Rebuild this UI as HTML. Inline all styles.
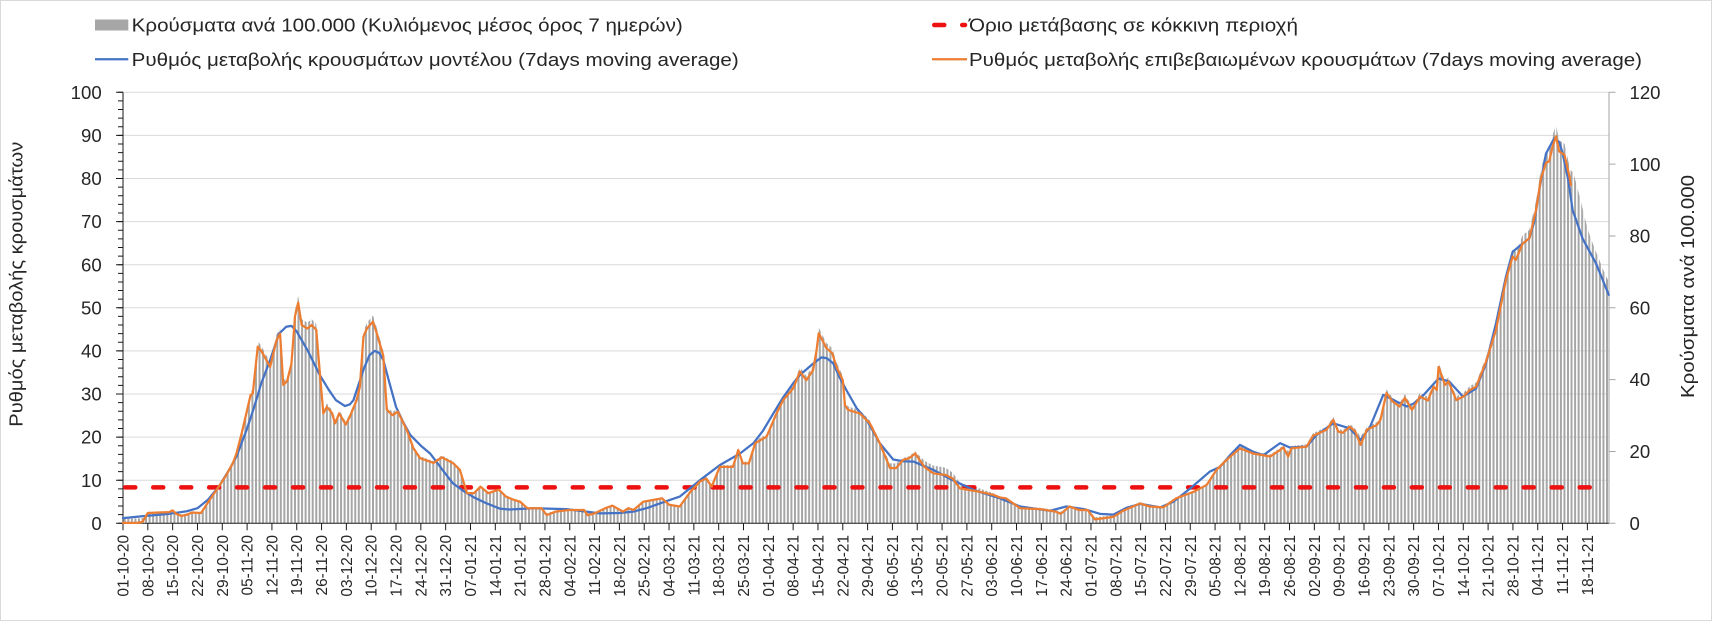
<!DOCTYPE html>
<html>
<head>
<meta charset="utf-8">
<style>
  html,body{margin:0;padding:0;background:#fff;}
  svg{display:block;}
  text{font-family:"Liberation Sans",Arial,"DejaVu Sans",sans-serif;fill:#262626;}
</style>
</head>
<body>
<svg width="1712" height="621" viewBox="0 0 1712 621" xmlns="http://www.w3.org/2000/svg">
  <defs>
    <clipPath id="bc">
      <polygon transform="translate(123,523.3) scale(3.546,-4.4393)" points="0,0 0,1 6.3,1.2 7,2.6 10,2.6 13,2.7 14,3.2 15,2.4 16.5,2 18,2.2 19.5,2.6 22,2.5 24.5,5.5 27,8.5 29,11 31,14 32,16.2 33.5,21 35,26.3 36,29.8 36.6,30.1 38,41 39,40 41.5,36.3 43.3,42.5 44.3,44 45.2,32.1 46.3,33 47.5,37 48.5,48 49.4,51.2 50.4,46 52,45.2 53.2,46 54.5,44.9 55.6,34 56.5,25.5 57.5,27 59,25.5 59.8,23.2 61,25.5 62.8,22.9 64,24.8 65.9,28.6 66.8,31.7 67.8,43.3 68.8,45.2 70.5,46.8 71.7,43.7 73.4,38.9 74.4,26.3 76,25.1 77.5,25.9 80,21.7 81.9,17.4 83.8,15.1 87.6,14 89.9,15.3 93,14 95,12.4 97,7 99,7 100.8,8.5 103,7 106,7.8 108,6.2 110,5.5 112,5.0 114,3.5 118,3.5 119.5,2.3 122,2.9 126,3.1 130,3.1 131,2.3 133,2.5 136,3.5 138,4.1 141,2.9 142.5,3.5 144,3.1 146.7,5 152,5.8 154,4.3 157,3.9 160,7.3 162.7,9.7 164.5,10.4 166,8.5 168.3,13.1 172,13.1 173.5,17 174.8,13.9 176.5,13.9 178.3,18.6 181.5,20.1 184.3,25.5 186.2,28.6 189,31.3 190.9,35.2 192.7,33.2 194.6,35.5 195.6,40.2 196.2,44.1 198.4,40.6 200,39.5 201.2,36.3 203,33.2 203.6,27.4 204.5,26.3 207.8,25.5 210.6,23.2 213.4,18.6 216.3,13.5 218,13.5 220,14.7 221.7,15.1 223.4,16.2 226,14.1 228.5,13 232,12.5 234,11.4 236,9.1 241.7,7.8 245.4,6.8 247.3,6.0 249,5.8 253,3.7 258.6,3.5 263,3 264.5,2.6 266.9,3.9 269.5,3.3 272,3.3 274.1,1.4 279.3,1.8 282,2.9 286.8,4.8 289.5,4.2 293.4,3.7 297,5.8 301.9,7.3 305.6,8.9 308.4,12.4 311.2,14.7 315,17.4 318.7,16.2 323.5,15.5 326.3,17 327.2,17.6 328.6,16.2 329.5,17.4 333.8,17.8 335.6,20.3 339.4,21.7 341.3,24 342.7,21.3 344,21 346,22.4 347.5,21.3 349,19.5 350.8,21.7 353.6,22.8 354.6,24 356.3,30.2 358,28.3 360,27.1 361.5,29.1 363.5,26.3 365.8,29.4 368,28.5 369.6,31.7 370.5,30.9 371,36.3 372.8,32.1 373.8,32.9 376,28.6 378,29.4 379.8,30.9 381.6,31.7 384.4,37.5 387.2,44.9 390,56.5 391.9,61.9 392.8,61.1 394.7,64.9 396.6,66.1 398.5,72.7 399.9,80.1 401.3,83.6 402.2,84 403.2,87.5 404.1,89.8 405,86.3 406.5,85.5 407.9,80.5 408.3,79.5 409,79 410,76 411,73 412,69.5 413,66.5 414,64 415,62 416,60 417,58 418,56 419,54.5 419,0"/>
    </clipPath>
  </defs>

  <!-- background & border -->
  <rect x="0" y="0" width="1712" height="621" fill="#ffffff"/>
  <rect x="0.5" y="0.5" width="1711" height="620" fill="none" stroke="#d9d9d9" stroke-width="1"/>

  <!-- gridlines -->
  <g stroke="#d9d9d9" stroke-width="1">
    <line x1="123" y1="480.2" x2="1609" y2="480.2"/>
    <line x1="123" y1="437.1" x2="1609" y2="437.1"/>
    <line x1="123" y1="394.0" x2="1609" y2="394.0"/>
    <line x1="123" y1="350.9" x2="1609" y2="350.9"/>
    <line x1="123" y1="307.8" x2="1609" y2="307.8"/>
    <line x1="123" y1="264.7" x2="1609" y2="264.7"/>
    <line x1="123" y1="221.6" x2="1609" y2="221.6"/>
    <line x1="123" y1="178.5" x2="1609" y2="178.5"/>
    <line x1="123" y1="135.4" x2="1609" y2="135.4"/>
    <line x1="123" y1="92.3" x2="1609" y2="92.3"/>
  </g>

  <!-- bars (stripes clipped by bar outline) -->
  <line x1="123.77" y1="307.8" x2="1609" y2="307.8" stroke="#a6a6a6" stroke-width="432" stroke-dasharray="2 1.546" clip-path="url(#bc)"/>

  <!-- axes -->
  <line x1="123" y1="92.3" x2="123" y2="523.3" stroke="#1a1a1a" stroke-width="1"/>
  <line x1="120.5" y1="91.8" x2="120.5" y2="523.8" stroke="#1a1a1a" stroke-width="5" stroke-dasharray="1 7.62"/>
  <line x1="119.5" y1="91.8" x2="119.5" y2="523.8" stroke="#1a1a1a" stroke-width="7" stroke-dasharray="1 42.1"/>
  <line x1="123" y1="523.3" x2="1609" y2="523.3" stroke="#1a1a1a" stroke-width="1"/>
  <line x1="122.5" y1="526.8" x2="1588" y2="526.8" stroke="#1a1a1a" stroke-width="7" stroke-dasharray="1 23.82"/>
  <line x1="1609" y1="92.3" x2="1609" y2="523.3" stroke="#a6a6a6" stroke-width="1"/>
  <line x1="1612.25" y1="91.8" x2="1612.25" y2="523.8" stroke="#a6a6a6" stroke-width="6.5" stroke-dasharray="1 70.83"/>

  <!-- red threshold -->
  <line x1="125.25" y1="487.4" x2="1592" y2="487.4" stroke="#ee1111" stroke-width="4.5" stroke-dasharray="10 17.97" stroke-linecap="round"/>

  <!-- lines -->
  <g transform="translate(123,523.3) scale(3.546,-4.31)" fill="none" stroke-linejoin="round" stroke-linecap="round">
    <polyline vector-effect="non-scaling-stroke" stroke="#4472c4" stroke-width="2.25" points="0,1.2 5,1.6 13,2.2 18,2.8 21,3.5 24,5.5 27,8.5 30,12.5 32,15.5 35,22 37,27 39,32.5 41.5,37.9 44,44 46,45.6 47.5,45.8 49,44.5 52,40.2 55.5,34.4 58,31 60,28.6 62.6,27.2 64,27.6 65,28.6 67.8,35.6 69.5,39 71,40 72.3,39.5 73.4,37.9 75,33 77,27 79,23.5 81,20.5 84,18 86.6,16.2 90,12.5 93,9.3 96,7.5 99,6 102.6,4.6 106.3,3.4 109,3.2 115.7,3.5 125,3.3 134.5,2.3 140,2.4 143.9,2.7 148,3.6 151.4,4.6 157,6.2 162.7,10 168.3,13.5 174,16.2 177.8,18.6 180.5,21.5 183.4,25.5 186,29 189,32.5 190.9,34.4 194.7,37.1 197,38.5 198.5,38.3 200.3,37.1 202,34 204,30.9 206.9,26.7 209.7,24 213.4,18.6 217.2,14.8 220,14.4 223,14.3 228.5,12.4 234,10 240,7.7 247.3,5.8 253,3.9 261.4,2.9 266,3.9 271,3.3 275.5,2.2 279.3,2.0 283,3.6 286.8,4.5 292.5,3.7 296.2,5 301,8.1 306.5,12 309.4,13.1 312.2,15.8 315,18.2 318.7,16.6 321.6,15.8 326.3,18.6 329,17.6 333.8,17.8 336.6,20.5 341.3,23.2 346,22 349,19.3 351.7,22.4 355.4,29.8 358.3,28.6 362,27.1 364,27.8 366.8,29.8 371,33.6 374,32.9 377.9,29.4 381.6,31.3 384.4,37.1 387.2,46.4 390,57.2 391.9,63 394.7,64.9 396.6,66.1 398,70 399.4,77.3 401.3,85.8 403.6,89.3 405,88.5 406,85.8 407.5,80 408.8,72.7 411.6,66.1 415.4,60.3 419,53"/>
    <polyline vector-effect="non-scaling-stroke" stroke="#ed7d31" stroke-width="2.25" points="0,0.1 4,0.1 5.5,0.3 7,2.4 10,2.5 13,2.6 14,3.0 15,2.2 16.5,1.7 18,2.0 19.5,2.5 22,2.4 24.5,5.5 27,8.5 29,11 31,14 32,16.2 33.5,21 35,26.3 36,29.8 36.6,30.1 38,41 39,40 41.5,36.3 43.3,42.5 44.3,44 45.2,32.1 46.3,33 47.5,37 48.5,48 49.4,51.2 50.4,46 52,45.2 53.2,46 54.5,44.9 55.6,34 56.5,25.5 57.5,27 59,25.5 59.8,23.2 61,25.5 62.8,22.9 64,24.8 65.9,28.6 66.8,31.7 67.8,43.3 68.8,45.2 70.5,46.8 71.7,43.7 73.4,38.9 74.4,26.3 76,25.1 77.5,25.9 80,21.7 81.9,17.4 83.8,15.1 87.6,14 89.9,15.3 93,14 95,12.4 97,7 99,7 100.8,8.5 103,7 106,7.8 108,6.2 110,5.5 112,5.0 114,3.5 118,3.5 119.5,1.9 122,2.7 126,3.1 130,3.1 131,1.9 133,2.3 136,3.5 138,4.1 141,2.7 142.5,3.5 144,3.1 146.7,5 152,5.8 154,4.3 157,3.9 160,7.3 162.7,9.7 164.5,10.4 166,8.5 168.3,13.1 172,13.1 173.5,17 174.8,13.9 176.5,13.9 178.3,18.6 181.5,20.1 184.3,25.5 186.2,28.6 189,31.3 190.9,35.2 192.7,33.2 194.6,35.5 195.6,40.2 196.2,44.1 198.4,40.6 200,39.5 201.2,36.3 203,33.2 203.6,27.4 204.5,26.3 207.8,25.5 210.6,23.2 213.4,18.6 216.3,12.8 218,12.8 220,14.7 221.7,15.1 223.4,16.2 226,13.1 228.5,11.6 232,11.2 234,10.4 236,8.1 241.7,7.3 245.4,6.6 247.3,6.0 249,5.8 253,3.5 258.6,3.3 263,2.7 264.5,2.2 266.9,3.9 269.5,3.1 272,3.1 274.1,0.9 279.3,1.5 282,2.9 286.8,4.6 289.5,3.9 293.4,3.7 297,5.8 301.9,7.3 305.6,8.9 308.4,12.4 311.2,14.7 315,17.4 318.7,16.2 323.5,15.5 326.3,17 327.2,17.6 328.6,15.5 329.5,17.4 333.8,17.8 335.6,20.3 339.4,21.7 341.3,24 342.7,21.3 344,21 346,22.4 347.5,21.3 349,18.2 350.8,21.7 353.6,22.8 354.6,24 356.3,30.2 358,28.3 360,27.1 361.5,29.1 363.5,26.3 365.8,29.4 368,28.5 369.6,31.7 370.5,30.9 371,36.3 372.8,32.1 373.8,32.9 376,28.6 378,29.4 379.8,30.9 381.6,31.7 384.4,37.5 387.2,44.9 390,56.5 391.9,61.9 392.8,61.1 394.7,64.9 396.6,66.1 398.5,72.7 399.9,80.1 401.3,83.6 402.2,84 403.2,87.5 404.1,89.8 405,86.3 406.5,85.5 407.9,80.5 408.3,78.5"/>
  </g>

  <!-- left tick labels -->
  <g font-size="18.6" text-anchor="end">
    <text x="101.7" y="529.9">0</text>
    <text x="101.7" y="486.8">10</text>
    <text x="101.7" y="443.7">20</text>
    <text x="101.7" y="400.6">30</text>
    <text x="101.7" y="357.5">40</text>
    <text x="101.7" y="314.4">50</text>
    <text x="101.7" y="271.3">60</text>
    <text x="101.7" y="228.2">70</text>
    <text x="101.7" y="185.1">80</text>
    <text x="101.7" y="142.0">90</text>
    <text x="101.7" y="98.9">100</text>
  </g>

  <!-- right tick labels -->
  <g font-size="18.6" text-anchor="start">
    <text x="1629.5" y="529.9">0</text>
    <text x="1629.5" y="458.1">20</text>
    <text x="1629.5" y="386.2">40</text>
    <text x="1629.5" y="314.4">60</text>
    <text x="1629.5" y="242.6">80</text>
    <text x="1629.5" y="170.8">100</text>
    <text x="1629.5" y="98.9">120</text>
  </g>

  <!-- axis titles -->
  <text font-size="18.6" text-anchor="middle" transform="translate(22.6,284.2) rotate(-90)" textLength="285" lengthAdjust="spacingAndGlyphs">Ρυθμός μεταβολής κρουσμάτων</text>
  <text font-size="18.6" text-anchor="middle" transform="translate(1694,286.5) rotate(-90)" textLength="223" lengthAdjust="spacingAndGlyphs">Κρούσματα ανά 100.000</text>

  <!-- date labels -->
  <g font-size="15.4" text-anchor="end">
    <text transform="translate(123.0,535) rotate(-90)" y="5.5">01-10-20</text>
    <text transform="translate(147.8,535) rotate(-90)" y="5.5">08-10-20</text>
    <text transform="translate(172.6,535) rotate(-90)" y="5.5">15-10-20</text>
    <text transform="translate(197.5,535) rotate(-90)" y="5.5">22-10-20</text>
    <text transform="translate(222.3,535) rotate(-90)" y="5.5">29-10-20</text>
    <text transform="translate(247.1,535) rotate(-90)" y="5.5">05-11-20</text>
    <text transform="translate(271.9,535) rotate(-90)" y="5.5">12-11-20</text>
    <text transform="translate(296.7,535) rotate(-90)" y="5.5">19-11-20</text>
    <text transform="translate(321.6,535) rotate(-90)" y="5.5">26-11-20</text>
    <text transform="translate(346.4,535) rotate(-90)" y="5.5">03-12-20</text>
    <text transform="translate(371.2,535) rotate(-90)" y="5.5">10-12-20</text>
    <text transform="translate(396.0,535) rotate(-90)" y="5.5">17-12-20</text>
    <text transform="translate(420.8,535) rotate(-90)" y="5.5">24-12-20</text>
    <text transform="translate(445.7,535) rotate(-90)" y="5.5">31-12-20</text>
    <text transform="translate(470.5,535) rotate(-90)" y="5.5">07-01-21</text>
    <text transform="translate(495.3,535) rotate(-90)" y="5.5">14-01-21</text>
    <text transform="translate(520.1,535) rotate(-90)" y="5.5">21-01-21</text>
    <text transform="translate(544.9,535) rotate(-90)" y="5.5">28-01-21</text>
    <text transform="translate(569.8,535) rotate(-90)" y="5.5">04-02-21</text>
    <text transform="translate(594.6,535) rotate(-90)" y="5.5">11-02-21</text>
    <text transform="translate(619.4,535) rotate(-90)" y="5.5">18-02-21</text>
    <text transform="translate(644.2,535) rotate(-90)" y="5.5">25-02-21</text>
    <text transform="translate(669.0,535) rotate(-90)" y="5.5">04-03-21</text>
    <text transform="translate(693.9,535) rotate(-90)" y="5.5">11-03-21</text>
    <text transform="translate(718.7,535) rotate(-90)" y="5.5">18-03-21</text>
    <text transform="translate(743.5,535) rotate(-90)" y="5.5">25-03-21</text>
    <text transform="translate(768.3,535) rotate(-90)" y="5.5">01-04-21</text>
    <text transform="translate(793.1,535) rotate(-90)" y="5.5">08-04-21</text>
    <text transform="translate(818.0,535) rotate(-90)" y="5.5">15-04-21</text>
    <text transform="translate(842.8,535) rotate(-90)" y="5.5">22-04-21</text>
    <text transform="translate(867.6,535) rotate(-90)" y="5.5">29-04-21</text>
    <text transform="translate(892.4,535) rotate(-90)" y="5.5">06-05-21</text>
    <text transform="translate(917.2,535) rotate(-90)" y="5.5">13-05-21</text>
    <text transform="translate(942.1,535) rotate(-90)" y="5.5">20-05-21</text>
    <text transform="translate(966.9,535) rotate(-90)" y="5.5">27-05-21</text>
    <text transform="translate(991.7,535) rotate(-90)" y="5.5">03-06-21</text>
    <text transform="translate(1016.5,535) rotate(-90)" y="5.5">10-06-21</text>
    <text transform="translate(1041.3,535) rotate(-90)" y="5.5">17-06-21</text>
    <text transform="translate(1066.2,535) rotate(-90)" y="5.5">24-06-21</text>
    <text transform="translate(1091.0,535) rotate(-90)" y="5.5">01-07-21</text>
    <text transform="translate(1115.8,535) rotate(-90)" y="5.5">08-07-21</text>
    <text transform="translate(1140.6,535) rotate(-90)" y="5.5">15-07-21</text>
    <text transform="translate(1165.4,535) rotate(-90)" y="5.5">22-07-21</text>
    <text transform="translate(1190.3,535) rotate(-90)" y="5.5">29-07-21</text>
    <text transform="translate(1215.1,535) rotate(-90)" y="5.5">05-08-21</text>
    <text transform="translate(1239.9,535) rotate(-90)" y="5.5">12-08-21</text>
    <text transform="translate(1264.7,535) rotate(-90)" y="5.5">19-08-21</text>
    <text transform="translate(1289.5,535) rotate(-90)" y="5.5">26-08-21</text>
    <text transform="translate(1314.4,535) rotate(-90)" y="5.5">02-09-21</text>
    <text transform="translate(1339.2,535) rotate(-90)" y="5.5">09-09-21</text>
    <text transform="translate(1364.0,535) rotate(-90)" y="5.5">16-09-21</text>
    <text transform="translate(1388.8,535) rotate(-90)" y="5.5">23-09-21</text>
    <text transform="translate(1413.6,535) rotate(-90)" y="5.5">30-09-21</text>
    <text transform="translate(1438.5,535) rotate(-90)" y="5.5">07-10-21</text>
    <text transform="translate(1463.3,535) rotate(-90)" y="5.5">14-10-21</text>
    <text transform="translate(1488.1,535) rotate(-90)" y="5.5">21-10-21</text>
    <text transform="translate(1512.9,535) rotate(-90)" y="5.5">28-10-21</text>
    <text transform="translate(1537.7,535) rotate(-90)" y="5.5">04-11-21</text>
    <text transform="translate(1562.6,535) rotate(-90)" y="5.5">11-11-21</text>
    <text transform="translate(1587.4,535) rotate(-90)" y="5.5">18-11-21</text>
  </g>

  <!-- legend -->
  <rect x="95" y="19.5" width="33.3" height="11" fill="#a6a6a6"/>
  <text x="131.7" y="31.7" font-size="18.6" textLength="551" lengthAdjust="spacingAndGlyphs">Κρούσματα ανά 100.000 (Κυλιόμενος μέσος όρος 7 ημερών)</text>
  <line x1="95" y1="59.3" x2="128.3" y2="59.3" stroke="#4472c4" stroke-width="2.25"/>
  <text x="131.7" y="66" font-size="18.6" textLength="607" lengthAdjust="spacingAndGlyphs">Ρυθμός μεταβολής κρουσμάτων μοντέλου (7days moving average)</text>

  <line x1="934.25" y1="25" x2="965" y2="25" stroke="#ee1111" stroke-width="4.5" stroke-dasharray="10 17.97" stroke-linecap="round"/>
  <text x="969" y="31.7" font-size="18.6" textLength="329" lengthAdjust="spacingAndGlyphs">Όριο μετάβασης σε κόκκινη περιοχή</text>
  <line x1="932" y1="59.3" x2="967" y2="59.3" stroke="#ed7d31" stroke-width="2.25"/>
  <text x="969" y="66" font-size="18.6" textLength="673" lengthAdjust="spacingAndGlyphs">Ρυθμός μεταβολής επιβεβαιωμένων κρουσμάτων (7days moving average)</text>
</svg>
</body>
</html>
